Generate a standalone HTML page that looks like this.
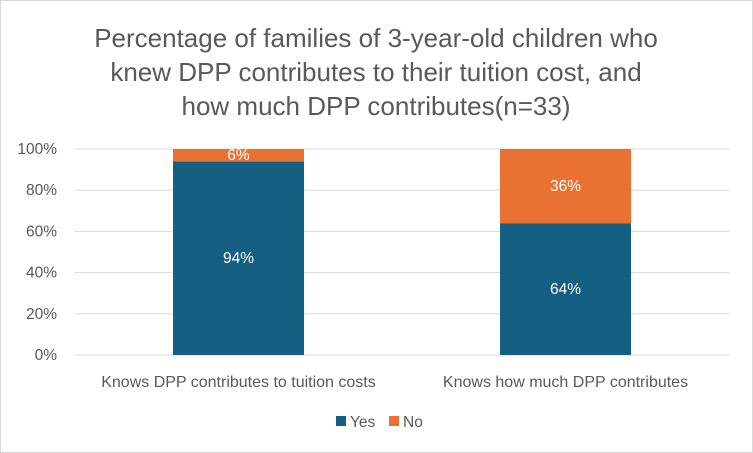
<!DOCTYPE html>
<html><head><meta charset="utf-8"><style>
body{margin:0;background:#fff}
svg{display:block;font-family:"Liberation Sans",sans-serif}
</style></head><body>
<svg id="c" width="753" height="453">
<rect x="0.5" y="0.5" width="752" height="452" fill="#fff" stroke="#d9d9d9"/>
<g fill="#595959" font-size="26" text-anchor="middle">
<text x="376" y="47">Percentage of families of 3-year-old children who</text>
<text x="376" y="81">knew DPP contributes to their tuition cost, and</text>
<text x="376" y="115">how much DPP contributes(n=33)</text>
</g>
</svg>
<script>
const categories=["Knows DPP contributes to tuition costs","Knows how much DPP contributes"];
const yesValues=[94,64];
const noValues=[6,36];
const yTicks=[0,20,40,60,80,100];
const svg=document.getElementById('c');
const NS='http://www.w3.org/2000/svg';
const x0=75,x1=729,yBase=355,yTop=149;
const y=v=>yBase-(v/100)*(yBase-yTop);
const bw=(x1-x0)/categories.length;
const xc=i=>x0+bw*(i+0.5);
function mk(t,a){const e=document.createElementNS(NS,t);for(const k in a)e.setAttribute(k,a[k]);svg.appendChild(e);return e;}
yTicks.forEach(t=>{
 const l=mk('line',{x1:x0,x2:x1,y1:y(t),y2:y(t),stroke:'#d9d9d9','stroke-width':1});
 
 
 const tx=mk('text',{x:57,y:y(t)+5,'text-anchor':'end','font-size':15.5,fill:'#595959'});
 tx.textContent=t+'%';
 
 
});
const barW=131;
categories.forEach((c,i)=>{
 const bx=xc(i)-barW/2;
 const r1=mk('rect',{x:bx,y:y(yesValues[i]),width:barW,height:yBase-y(yesValues[i]),fill:'#156082'});
 
 
 const r2=mk('rect',{x:bx,y:y(yesValues[i]+noValues[i]),width:barW,height:y(yesValues[i])-y(yesValues[i]+noValues[i]),fill:'#E97132'});
 
 
 const t1=mk('text',{x:xc(i),y:(y(0)+y(yesValues[i]))/2+5,'text-anchor':'middle','font-size':15.5,fill:'#fff'});
 t1.textContent=yesValues[i]+'%';
 
 
 const t2=mk('text',{x:xc(i),y:(y(yesValues[i])+y(yesValues[i]+noValues[i]))/2+5,'text-anchor':'middle','font-size':15.5,fill:'#fff'});
 t2.textContent=noValues[i]+'%';
 
 
 const cl=mk('text',{x:xc(i),y:387,'text-anchor':'middle','font-size':16,fill:'#595959'});
 cl.textContent=c;
 
 
});
const lg=[['Yes','#156082',336],['No','#E97132',389]];
lg.forEach(([n,col,lx])=>{
 const s=mk('rect',{x:lx,y:416,width:10,height:10,fill:col});
 
 
 const t=mk('text',{x:lx+14,y:427,'font-size':15.5,fill:'#595959'});
 t.textContent=n;
 
 
});
</script>
</body></html>
